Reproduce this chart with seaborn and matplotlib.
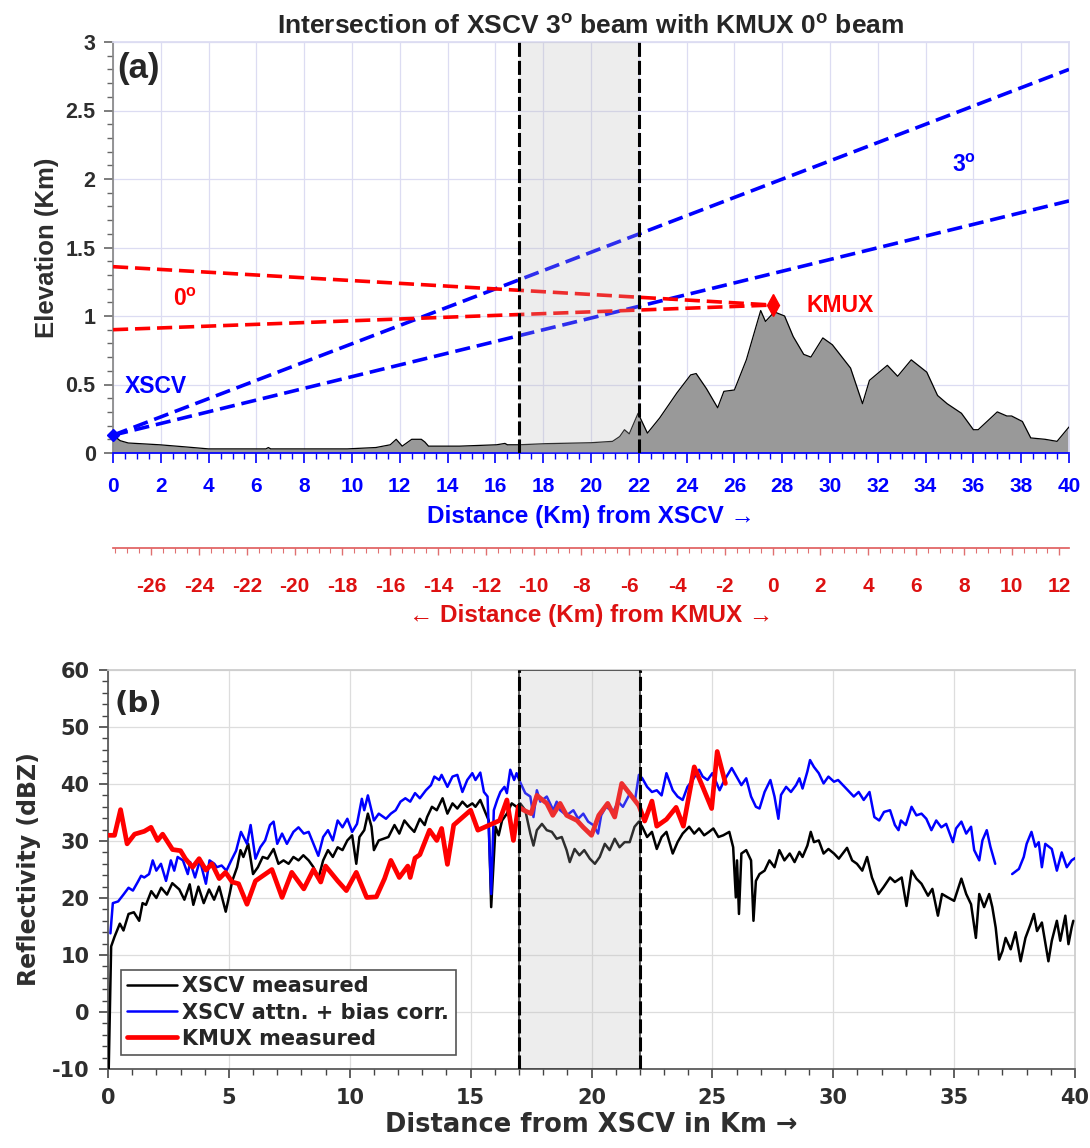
import numpy as np
import pandas as pd
import matplotlib.pyplot as plt
from matplotlib.ticker import MultipleLocator
import seaborn as sns

# ---------------- panel (a): terrain profile and beams ----------------
TERRAIN_KM = [0, 0.3, 0.64, 1.95, 3.0, 4.0, 5.0, 6.4, 6.5, 6.6,
              8.0, 9.8, 11.0, 11.3, 11.6, 11.85, 12.1, 12.5, 12.9, 13.05,
              13.2, 14.5, 16.05, 16.4, 16.5, 17.0, 18.08, 20.0, 20.9, 21.2,
              21.4, 21.6, 21.97, 22.36, 22.87, 23.6, 24.17, 24.4, 24.83, 25.3,
              25.56, 26.0, 26.5, 27.1, 27.3, 27.67, 28.1, 28.46, 28.9, 29.2,
              29.7, 30.1, 30.86, 31.36, 31.65, 32.4, 32.83, 33.4, 34.05, 34.5,
              34.9, 35.5, 36.0, 36.2, 37.0, 37.4, 37.6, 38.05, 38.4, 39.0,
              39.5, 40.0]
TERRAIN_ELEV = [0.13, 0.09, 0.073, 0.06, 0.045, 0.03, 0.03, 0.03, 0.04, 0.03,
                0.03, 0.03, 0.04, 0.05, 0.06, 0.10, 0.05, 0.10, 0.10, 0.08,
                0.05, 0.05, 0.06, 0.07, 0.06, 0.06, 0.068, 0.075, 0.085, 0.12,
                0.17, 0.14, 0.29, 0.145, 0.255, 0.44, 0.57, 0.58, 0.47, 0.33,
                0.45, 0.46, 0.68, 1.04, 0.96, 1.03, 1.0, 0.85, 0.72, 0.70,
                0.84, 0.79, 0.62, 0.36, 0.53, 0.64, 0.56, 0.68, 0.59, 0.42,
                0.36, 0.29, 0.17, 0.17, 0.30, 0.27, 0.27, 0.23, 0.11, 0.10,
                0.085, 0.19]

XSCV_SITE = (0.0, 0.13)
KMUX_SITE = (27.6, 1.08)
KMUX_KM = KMUX_SITE[0]

# beam edges: (x0, y0, x1, y1)
XSCV_BEAM_TOP = [0.0, 0.13, 40.0, 2.80]
XSCV_BEAM_BOT = [0.0, 0.13, 40.0, 1.84]
KMUX_BEAM_TOP = [0.0, 1.36, 27.6, 1.08]
KMUX_BEAM_BOT = [0.0, 0.90, 27.6, 1.08]

OVERLAP = (17, 22)

# ---------------- panel (b): reflectivity ----------------
KMUX_X = [0, 0.27, 0.52, 0.79, 1.1, 1.5, 1.78, 2.05, 2.26, 2.67,
          3.0, 3.2, 3.5, 3.77, 4.05, 4.3, 4.6, 4.86, 5.14, 5.4,
          5.75, 6.1, 6.78, 7.2, 7.6, 8.1, 8.5, 8.8, 9.0, 9.5,
          9.86, 10.27, 10.7, 11.1, 11.44, 11.7, 12.05, 12.4, 12.5, 12.7,
          12.9, 13.3, 13.6, 13.8, 14.04, 14.3, 15.0, 15.3, 16.2, 16.5,
          16.77, 16.97, 17.2, 17.5, 17.74, 18.15, 18.4, 18.7, 18.97, 19.4,
          19.66, 20.0, 20.3, 20.67, 20.96, 21.25, 21.6, 21.96, 22.2, 22.5,
          22.7, 23.1, 23.5, 23.8, 24.25, 24.6, 24.97, 25.2, 25.54]
KMUX_DBZ = [31, 31, 35.5, 29.5, 31.2, 31.7, 32.4, 30.1, 31.2, 28.5,
            28.3, 26.9, 25.4, 26.9, 24.9, 26, 23.4, 24.5, 22.8, 22.5,
            18.9, 23, 25, 20.1, 24.5, 21.6, 25, 22.8, 25.6, 23,
            21.3, 24.5, 20.1, 20.2, 23.4, 26.6, 23.6, 25.6, 23.6, 27,
            27.6, 31.9, 30.1, 32.2, 25.9, 32.8, 35.4, 31.9, 33.6, 37.2,
            30.1, 36, 35.4, 34.8, 38, 36.6, 34.5, 36.6, 34.5, 33.6,
            32.4, 31, 34.5, 36.6, 34.2, 40.1, 38.2, 36.2, 33.5, 37,
            32.6, 33.8, 35.9, 32.6, 43, 39.5, 35.7, 45.7, 40.1]

CORR_X = [0.1, 0.2, 0.42, 0.64, 0.85, 1.03, 1.23, 1.37, 1.5, 1.7,
          1.85, 2.0, 2.19, 2.4, 2.6, 2.74, 2.88, 3.1, 3.3, 3.4,
          3.6, 3.8, 4.05, 4.2, 4.4, 4.5, 4.7, 4.9, 5.1, 5.3,
          5.5, 5.75, 5.9, 6.1, 6.3, 6.5, 6.7, 6.85, 7.0, 7.2,
          7.4, 7.67, 7.88, 8.1, 8.3, 8.5, 8.7, 8.9, 9.1, 9.3,
          9.5, 9.7, 9.9, 10.1, 10.3, 10.5, 10.6, 10.75, 10.9, 11.0,
          11.2, 11.5, 11.7, 11.9, 12.1, 12.3, 12.5, 12.7, 12.9, 13.15,
          13.36, 13.5, 13.7, 13.8, 14.04, 14.25, 14.45, 14.66, 14.86, 15.07,
          15.2, 15.4, 15.55, 15.7, 15.85, 15.96, 16.1, 16.23, 16.4, 16.5,
          16.64, 16.8, 16.9, 17.04, 17.26, 17.47, 17.6, 17.74, 17.88, 18.15,
          18.42, 18.56, 18.7, 18.97, 19.25, 19.45, 19.66, 19.86, 20.07, 20.27,
          20.4, 20.6, 20.9, 21.1, 21.3, 21.6, 21.8, 21.96, 22.1, 22.3,
          22.5, 22.7, 22.9, 23.1, 23.36, 23.56, 23.77, 23.97, 24.18, 24.45,
          24.6, 24.8, 25.0, 25.3, 25.5, 25.8, 26.0, 26.2, 26.4, 26.6,
          26.8, 26.95, 27.16, 27.4, 27.57, 27.73, 27.84, 28.05, 28.25, 28.46,
          28.6, 28.73, 28.93, 29.04, 29.2, 29.4, 29.6, 29.8, 30.03, 30.2,
          30.4, 30.6, 30.85, 31.05, 31.26, 31.5, 31.7, 31.9, 32.1, 32.35,
          32.55, 32.7, 32.8, 33.0, 33.24, 33.44, 33.65, 33.85, 34.06, 34.26,
          34.47, 34.67, 34.95, 35.08, 35.3, 35.5, 35.7, 35.83, 36.04, 36.17,
          36.35, 36.5, 36.7]
CORR_DBZ = [13.8, 19.1, 19.4, 20.6, 21.8, 21.3, 22.8, 23.9, 23.6, 24.2,
            26.6, 24.8, 26, 23, 26.6, 24.8, 27.2, 26.6, 24.2, 26.3,
            23.6, 26.6, 22.5, 26.6, 26, 25.4, 25.7, 24.8, 26.6, 28.3,
            31.6, 29.5, 32.8, 26.9, 28.9, 30.1, 32.8, 33.4, 29.5, 31.3,
            29.5, 31.6, 32.4, 31.3, 31.6, 29.5, 27.4, 30.7, 31.9, 30.1,
            33.6, 32.4, 33.9, 31.6, 33, 37.4, 35.4, 38, 35.4, 33.6,
            34.8, 33.9, 34.8, 35.4, 36.9, 37.5, 36.9, 38.4, 37.5, 38.9,
            39.8, 41.3, 40.7, 41.6, 39.5, 41.3, 41.6, 38.6, 40.7, 41.9,
            40.7, 42, 38.6, 37.8, 20.7, 35.4, 37.2, 38.6, 39.5, 38.4,
            42.5, 40.7, 41.9, 40.4, 38.4, 37.8, 34.2, 38.9, 36.9, 37.8,
            35.4, 36.9, 35.4, 34.5, 35.4, 33.9, 34.8, 33.4, 32.8, 31.3,
            34.5, 36, 35.1, 36.9, 36, 38.4, 37.2, 41.6, 41, 39.5,
            38.6, 38.9, 38, 41.9, 38.9, 37.8, 37.2, 39.5, 40.7, 42.5,
            41.3, 40.7, 41.9, 38.9, 40.7, 42.8, 41.3, 39.8, 41, 37.8,
            36, 35.7, 38.6, 40.7, 37.8, 33.9, 38.1, 39.5, 38.6, 39.8,
            41, 39.2, 42.2, 44.2, 43, 41.9, 40.1, 41.3, 40.4, 40.7,
            39.8, 38.9, 37.8, 38.6, 37.2, 38.6, 34.2, 33.6, 35.1, 35.4,
            32.8, 31.9, 33.6, 32.8, 36, 34.5, 34.8, 33.9, 31.9, 33.6,
            32.4, 33, 29.8, 32.2, 33.4, 31.3, 32.5, 28.4, 26.6, 30.1,
            31.9, 29, 26]
# second piece of the corrected series, after the gap
CORR2_X = [37.4, 37.68, 37.88, 38.0, 38.2, 38.36, 38.5, 38.63, 38.77, 39.04,
           39.25, 39.45, 39.66, 39.86, 40.0]
CORR2_DBZ = [24.2, 25.1, 27.2, 29.5, 31.6, 29, 29.8, 25.4, 29.5, 28.6,
             24.8, 28, 25.4, 26.6, 27]

XSCV_X = [0.03, 0.13, 0.27, 0.49, 0.64, 0.85, 1.07, 1.29, 1.43, 1.57,
          1.79, 2.0, 2.2, 2.44, 2.66, 2.95, 3.16, 3.38, 3.53, 3.74,
          3.96, 4.18, 4.39, 4.6, 4.87, 5.04, 5.14, 5.34, 5.48, 5.6,
          5.8, 6.0, 6.2, 6.4, 6.6, 6.85, 7.05, 7.26, 7.47, 7.67,
          7.88, 8.08, 8.3, 8.5, 8.7, 8.9, 9.1, 9.3, 9.5, 9.7,
          9.9, 10.1, 10.27, 10.4, 10.6, 10.75, 10.9, 11.0, 11.2, 11.4,
          11.6, 11.85, 12.05, 12.26, 12.47, 12.67, 12.9, 13.1, 13.2, 13.4,
          13.6, 13.84, 14.04, 14.25, 14.45, 14.66, 14.86, 15.07, 15.2, 15.4,
          15.6, 15.75, 15.85, 16.03, 16.16, 16.3, 16.5, 16.7, 16.9, 17.05,
          17.26, 17.47, 17.6, 17.74, 17.95, 18.15, 18.36, 18.56, 18.77, 18.97,
          19.1, 19.3, 19.5, 19.7, 19.93, 20.14, 20.34, 20.55, 20.75, 20.96,
          21.16, 21.37, 21.58, 21.78, 21.96, 22.1, 22.3, 22.5, 22.7, 22.9,
          23.1, 23.36, 23.56, 23.77, 24.04, 24.25, 24.45, 24.66, 24.86, 25.04,
          25.25, 25.45, 25.7, 25.86, 25.97, 26.02, 26.1, 26.2, 26.4, 26.6,
          26.7, 26.8, 26.95, 27.16, 27.36, 27.57, 27.77, 27.98, 28.2, 28.4,
          28.6, 28.73, 28.93, 29.07, 29.2, 29.4, 29.6, 29.8, 30.03, 30.23,
          30.57, 30.78, 30.98, 31.2, 31.4, 31.6, 31.87, 32.08, 32.35, 32.55,
          32.83, 33.03, 33.24, 33.44, 33.65, 33.92, 34.1, 34.33, 34.5, 34.74,
          35.0, 35.3, 35.5, 35.7, 35.9, 36.04, 36.24, 36.45, 36.58, 36.72,
          36.86, 37.0, 37.13, 37.34, 37.54, 37.75, 37.95, 38.16, 38.3, 38.43,
          38.63, 38.9, 39.04, 39.25, 39.39, 39.6, 39.73, 39.86, 39.93]
XSCV_DBZ = [-10, 11.5, 13.2, 15.5, 14.3, 17.2, 17.5, 16, 19.1, 18.8,
            21.2, 20, 21.8, 20.6, 22.6, 21.5, 19.7, 22.4, 18.8, 22,
            19.1, 21.5, 19.7, 22, 17.6, 20.9, 23, 25.4, 28.4, 27.2,
            29.5, 24.2, 25.4, 27.2, 26.9, 28.6, 26, 26.6, 26, 27.2,
            26.6, 27.5, 26.6, 25.4, 23.4, 26.6, 28.4, 27.2, 28.9, 28.4,
            30.1, 31, 26, 30.7, 31.9, 34.8, 32.5, 28.4, 30.1, 30.4,
            30.7, 32.8, 31.3, 33.6, 32.5, 31.6, 33.9, 32.8, 34.2, 36,
            35.4, 37.5, 34.8, 36.6, 35.7, 36.9, 36, 36.6, 36, 37.2,
            35.1, 33.6, 18.4, 32.5, 31, 33.6, 34.8, 36.6, 36, 36.6,
            35.4, 31.3, 29.2, 31.9, 33, 31.9, 31.6, 30.4, 30.7, 28.4,
            26.3, 28.6, 27.5, 28.4, 26.9, 26, 27.2, 29.5, 28.4, 30.4,
            28.9, 29.8, 29.8, 32.5, 33.4, 32.5, 30.7, 31.6, 28.6, 30.7,
            31.6, 27.8, 29.8, 31.3, 32.5, 31.3, 32.2, 31, 31.6, 32.2,
            30.7, 31, 31.6, 28.9, 20.1, 26.6, 17.2, 27.8, 28.4, 26.6,
            16, 23, 24.2, 24.8, 26.6, 25.4, 28.4, 26.6, 27.8, 26.3,
            28.1, 27.2, 29.2, 31.6, 29.8, 30.1, 27.8, 28.6, 27.8, 26.9,
            28.8, 26.6, 26, 24.8, 27.2, 23.6, 20.7, 21.9, 23.6, 22.8,
            23.6, 18.6, 24.8, 23.4, 22.5, 20.4, 21.6, 16.9, 20.7, 20.1,
            19.5, 23.4, 20.7, 18.9, 13, 20.7, 18.4, 20.7, 18.4, 14.8,
            9.2, 10.7, 13, 11, 14, 8.9, 13, 15.4, 17.2, 14.2,
            15.7, 8.9, 12.5, 16, 12.5, 16.9, 11.9, 14.8, 16]

ELEV_TICKS = [0, 0.5, 1, 1.5, 2, 2.5, 3]
XSCV_TICKS = list(range(0, 41, 2))
KMUX_TICKS = list(range(-26, 13, 2))
DBZ_TICKS = list(range(-10, 61, 10))
DIST_TICKS = list(range(0, 41, 5))

# ---------------- style ----------------
sns.set_theme(style="whitegrid")
plt.rcParams["font.family"] = ["Liberation Sans", "DejaVu Sans"]
plt.rcParams["font.weight"] = "bold"
plt.rcParams["mathtext.default"] = "regular"
plt.rcParams["axes.unicode_minus"] = False
NARROW = ["Liberation Sans Narrow", "Liberation Sans", "DejaVu Sans"]
WIDE = "DejaVu Sans"

BLUE = "#0000ff"
RED = "#ff0000"
KRED = "#dd1111"
DARK = "#2e2e2e"

fig = plt.figure(figsize=(10.9, 11.48), dpi=100)
ax1 = fig.add_axes([113 / 1090, 1 - 453 / 1148, 956 / 1090, 411 / 1148])
ax2 = fig.add_axes([108 / 1090, 1 - 1069 / 1148, 967 / 1090, 399 / 1148])

# ---------------- panel (a) ----------------
ax1.fill_between(TERRAIN_KM, TERRAIN_ELEV, color="#999999", lw=0, zorder=2)
sns.lineplot(x=TERRAIN_KM, y=TERRAIN_ELEV, color="black", linewidth=0.9,
             sort=False, estimator=None, ax=ax1, zorder=3)

beam_dash = (0, (4.2, 1.9))
for b, c in [(XSCV_BEAM_TOP, BLUE), (XSCV_BEAM_BOT, BLUE),
             (KMUX_BEAM_TOP, RED), (KMUX_BEAM_BOT, RED)]:
    ax1.plot([b[0], b[2]], [b[1], b[3]], color=c, lw=2.6, ls=beam_dash, zorder=3)

ax1.plot(*XSCV_SITE, marker="D", color=BLUE, ms=6.5, zorder=6, clip_on=False)
ax1.plot(*KMUX_SITE, marker="d", color=RED, ms=11, zorder=6)

ax1.axvspan(*OVERLAP, facecolor=(0.73, 0.73, 0.73, 0.25), lw=0, zorder=4)
for xv in OVERLAP:
    ax1.axvline(xv, color="black", lw=2.2, ls=(0, (4.6, 1.3)), zorder=5)

ax1.text(0.5, 0.485, "XSCV", color=BLUE, fontsize=16.5, weight="bold", va="center")
ax1.text(3.0, 1.12, r"0$^{o}$", color=RED, fontsize=16.5, weight="bold", ha="center", va="center")
ax1.text(35.6, 2.10, r"3$^{o}$", color=BLUE, fontsize=16.5, weight="bold", ha="center", va="center")
ax1.text(29.0, 1.08, "KMUX", color=RED, fontsize=16.5, weight="bold", va="center")
ax1.text(0.004, 0.975, "(a)", transform=ax1.transAxes, fontsize=25, weight="bold", va="top")

ax1.set_xlim(0, 40)
ax1.set_ylim(0, 3)
ax1.set_xticks(XSCV_TICKS, [f"{t:g}" for t in XSCV_TICKS], fontfamily=NARROW,
               color=BLUE, fontsize=15, fontweight="bold")
ax1.set_yticks(ELEV_TICKS, [f"{t:g}" for t in ELEV_TICKS], color=DARK,
               fontsize=15.5, fontweight="bold")
ax1.xaxis.set_minor_locator(MultipleLocator(0.5))
ax1.yaxis.set_minor_locator(MultipleLocator(0.1))
ax1.tick_params(axis="x", which="both", direction="out", colors=BLUE, bottom=True)
ax1.tick_params(axis="x", which="major", length=7, width=1.2, pad=10)
ax1.tick_params(axis="x", which="minor", length=4.3, width=1)
ax1.tick_params(axis="y", which="both", direction="out", color="#666666", left=True)
ax1.tick_params(axis="y", which="major", length=6.5, width=1.2, pad=6)
ax1.tick_params(axis="y", which="minor", length=4, width=1)
ax1.grid(True, which="major", color="#dcdcf2", lw=0.9)
ax1.grid(False, which="minor")
for s in ["top", "right"]:
    ax1.spines[s].set_color("#dcdcf2")
ax1.spines["left"].set_color("#888888")
ax1.spines["bottom"].set_color(BLUE)
ax1.set_xlabel("Distance (Km) from XSCV \u2192", color=BLUE, fontsize=17.5,
               fontweight="bold", fontfamily=NARROW, labelpad=7)
ax1.set_ylabel("Elevation (Km)", color=DARK, fontsize=18.5, fontweight="bold", labelpad=5)
ax1.set_title(r"Intersection of XSCV 3$^{o}$ beam with KMUX 0$^{o}$ beam",
              fontsize=19, fontweight="bold", pad=6)

sec = ax1.secondary_xaxis(-0.231, functions=(lambda x: x - KMUX_KM, lambda x: x + KMUX_KM))
sec.set_xticks(KMUX_TICKS, [f"{t:g}" for t in KMUX_TICKS], fontfamily=NARROW,
               color=KRED, fontsize=15, fontweight="bold")
sec.xaxis.set_minor_locator(MultipleLocator(0.5))
sec.tick_params(which="both", direction="out", color="#e07070")
sec.tick_params(which="major", length=5, width=1, pad=16)
sec.tick_params(which="minor", length=3.5, width=0.8)
sec.spines["bottom"].set_color("#e06060")
sec.set_xlabel("\u2190 Distance (Km) from KMUX \u2192", color=KRED, fontsize=17.5,
               fontweight="bold", fontfamily=NARROW, labelpad=6)

# ---------------- panel (b) ----------------
sns.lineplot(x=XSCV_X, y=XSCV_DBZ, color="black", linewidth=1.8, sort=False,
             estimator=None, label="XSCV measured", ax=ax2, zorder=3)
sns.lineplot(x=CORR_X, y=CORR_DBZ, color=BLUE, linewidth=1.8, sort=False,
             estimator=None, label="XSCV attn. + bias corr.", ax=ax2, zorder=3)
sns.lineplot(x=CORR2_X, y=CORR2_DBZ, color=BLUE, linewidth=1.8, sort=False,
             estimator=None, ax=ax2, zorder=3)
sns.lineplot(x=KMUX_X, y=KMUX_DBZ, color=RED, linewidth=3.4, sort=False,
             estimator=None, label="KMUX measured", ax=ax2, zorder=3)

ax2.axvspan(*OVERLAP, facecolor=(0.73, 0.73, 0.73, 0.25), edgecolor="#444444", lw=1.2, zorder=4)
for xv in OVERLAP:
    ax2.axvline(xv, color="black", lw=2.2, ls=(0, (4.6, 1.3)), zorder=5)

ax2.text(0.007, 0.95, "(b)", transform=ax2.transAxes, fontsize=21, weight="bold",
         va="top", fontfamily=WIDE)

ax2.set_xlim(0, 40)
ax2.set_ylim(-10, 60)
ax2.set_xticks(DIST_TICKS, [f"{t:g}" for t in DIST_TICKS], color=DARK, fontsize=15,
               fontweight="bold", fontfamily=WIDE)
ax2.set_yticks(DBZ_TICKS, [f"{t:g}" for t in DBZ_TICKS], color=DARK, fontsize=15,
               fontweight="bold", fontfamily=WIDE)
ax2.xaxis.set_minor_locator(MultipleLocator(1))
ax2.yaxis.set_minor_locator(MultipleLocator(2))
ax2.tick_params(which="both", direction="out", color="#444444", bottom=True, left=True)
ax2.tick_params(which="major", length=6.5, width=1.2, pad=7)
ax2.tick_params(which="minor", length=4, width=1)
ax2.grid(True, which="major", color="#dddddd", lw=0.9)
ax2.grid(False, which="minor")
for s in ["top", "right"]:
    ax2.spines[s].set_color("#cccccc")
for s in ["left", "bottom"]:
    ax2.spines[s].set_color("#555555")
ax2.set_xlabel("Distance from XSCV in Km \u2192", color=DARK, fontsize=18.5,
               fontweight="bold", fontfamily=WIDE, labelpad=3)
ax2.set_ylabel("Reflectivity (dBZ)", color=DARK, fontsize=17,
               fontweight="bold", fontfamily=WIDE, labelpad=8)

leg = ax2.legend(loc="lower left", bbox_to_anchor=(0.0134, 0.035), frameon=True, fancybox=False,
                 edgecolor="#555555", framealpha=1, handlelength=2.4,
                 prop={"family": WIDE, "weight": "bold", "size": 15},
                 handletextpad=0.25, labelspacing=0.3, borderpad=0.3, borderaxespad=0)
leg.get_frame().set_linewidth(1.2)
leg.set_zorder(10)

fig.savefig("out.png", dpi=100)
